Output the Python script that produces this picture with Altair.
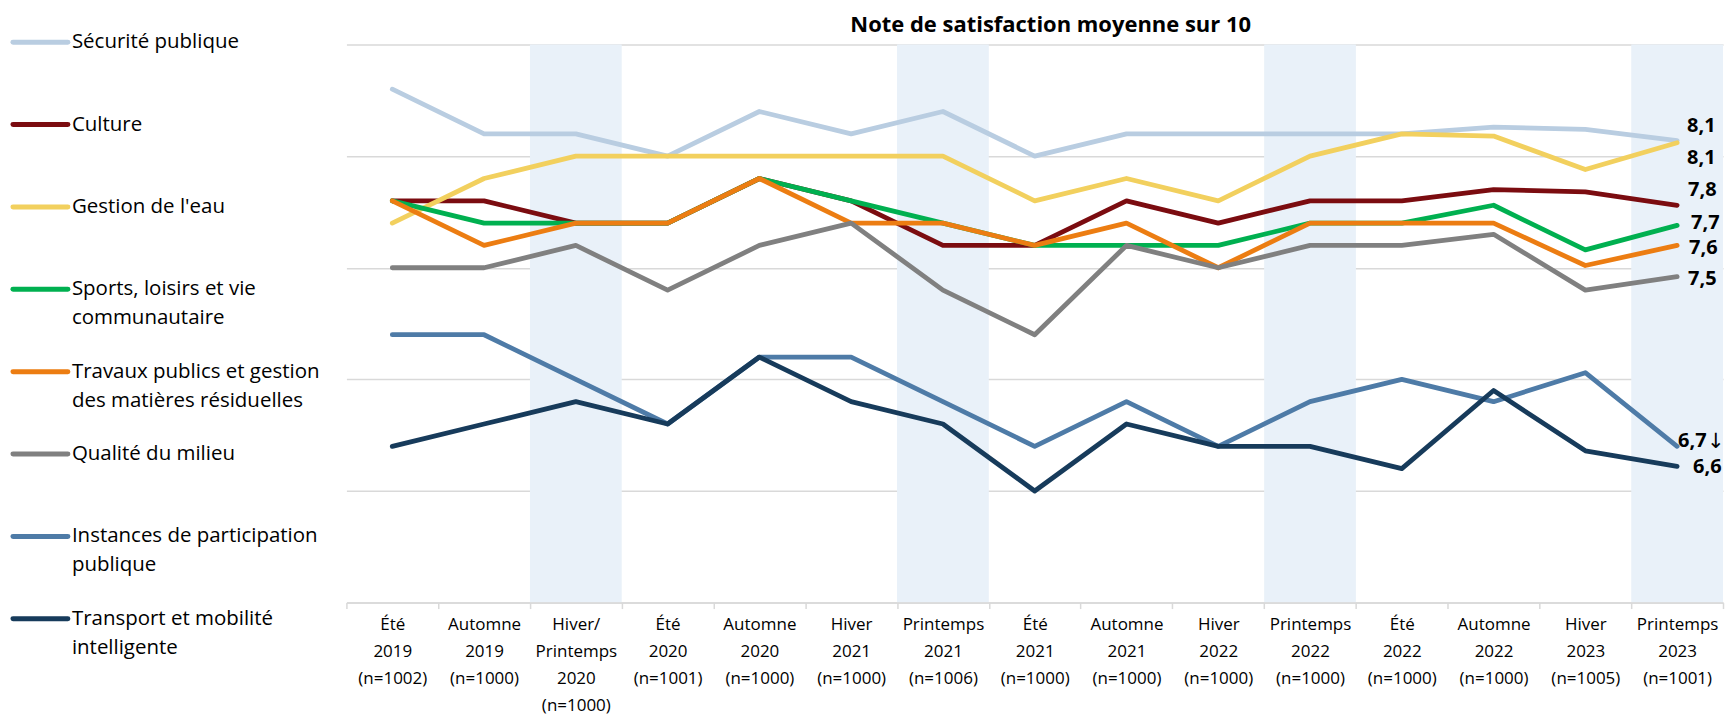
import altair as alt
import pandas as pd

# ---------------- data ----------------
periods = [
    "Été|2019|(n=1002)", "Automne|2019|(n=1000)", "Hiver/|Printemps|2020|(n=1000)",
    "Été|2020|(n=1001)", "Automne|2020|(n=1000)", "Hiver|2021|(n=1000)",
    "Printemps|2021|(n=1006)", "Été|2021|(n=1000)", "Automne|2021|(n=1000)",
    "Hiver|2022|(n=1000)", "Printemps|2022|(n=1000)", "Été|2022|(n=1000)",
    "Automne|2022|(n=1000)", "Hiver|2023|(n=1005)", "Printemps|2023|(n=1001)",
]
shaded_periods = [periods[2], periods[6], periods[10], periods[14]]

series_names = [
    "Sécurité publique", "Culture", "Gestion de l'eau",
    "Sports, loisirs et vie communautaire",
    "Travaux publics et gestion des matières résiduelles",
    "Qualité du milieu", "Instances de participation publique",
    "Transport et mobilité intelligente",
]
legend_line1 = ["Sécurité publique", "Culture", "Gestion de l'eau", "Sports, loisirs et vie",
                "Travaux publics et gestion", "Qualité du milieu",
                "Instances de participation", "Transport et mobilité"]
legend_line2 = ["", "", "", "communautaire", "des matières résiduelles", "",
                "publique", "intelligente"]

securite = [8.30, 8.10, 8.10, 8.00, 8.20, 8.10, 8.20, 8.00, 8.10, 8.10, 8.10, 8.10, 8.13, 8.12, 8.07]
culture = [7.80, 7.80, 7.70, 7.70, 7.90, 7.80, 7.60, 7.60, 7.80, 7.70, 7.80, 7.80, 7.85, 7.84, 7.78]
eau = [7.70, 7.90, 8.00, 8.00, 8.00, 8.00, 8.00, 7.80, 7.90, 7.80, 8.00, 8.10, 8.09, 7.94, 8.06]
sports = [7.80, 7.70, 7.70, 7.70, 7.90, 7.80, 7.70, 7.60, 7.60, 7.60, 7.70, 7.70, 7.78, 7.58, 7.69]
travaux = [7.80, 7.60, 7.70, 7.70, 7.90, 7.70, 7.70, 7.60, 7.70, 7.50, 7.70, 7.70, 7.70, 7.51, 7.60]
qualite = [7.50, 7.50, 7.60, 7.40, 7.60, 7.70, 7.40, 7.20, 7.60, 7.50, 7.60, 7.60, 7.65, 7.40, 7.46]
instances = [7.20, 7.20, 7.00, 6.80, 7.10, 7.10, 6.90, 6.70, 6.90, 6.70, 6.90, 7.00, 6.90, 7.03, 6.70]
transport = [6.70, 6.80, 6.90, 6.80, 7.10, 6.90, 6.80, 6.50, 6.80, 6.70, 6.70, 6.60, 6.95, 6.68, 6.61]
all_values = [securite, culture, eau, sports, travaux, qualite, instances, transport]
significance = ["", "", "", "", "", "", "↓", ""]

grid_values = [6.0, 6.5, 7.0, 7.5, 8.0, 8.5]

# ---------------- styles ----------------
colors = ["#B9CDE1", "#7B0C10", "#F2D05E", "#00B050", "#EC7D12", "#808080", "#4E7BA7", "#173B5B"]
label_offsets = [(10, -15), (11, -15), (10, 15), (14, -2), (12, 3), (11, 2.5), (1, -5), (16, 1)]
FONT = "Open Sans"
W, H = 1379, 559
LEG_STEP = 82.5

rows = []
for name, vals in zip(series_names, all_values):
    for p, v in zip(periods, vals):
        rows.append({"period": p, "series": name, "value": v})
df = pd.DataFrame(rows)

ends = pd.DataFrame({
    "period": [periods[-1]] * len(series_names),
    "series": series_names,
    "value": [v[-1] for v in all_values],
    "label": [f"{v[-1]:.1f}".replace(".", ",") for v in all_values],
    "mark": significance,
})

shade_df = pd.DataFrame({"period": shaded_periods,
                         "lo": [grid_values[0]] * len(shaded_periods),
                         "hi": [grid_values[-1]] * len(shaded_periods)})

xscale = alt.Scale(type="band", domain=periods, paddingInner=0, paddingOuter=0)
yscale = alt.Scale(domain=[grid_values[0], grid_values[-1]], nice=False, zero=False)

xaxis = alt.Axis(
    title=None, labelAngle=0, tickBand="extent",
    labelExpr="split(datum.label, '|')", labelFont=FONT, labelFontSize=17,
    labelColor="#000000", labelLineHeight=27, labelPadding=8, labelLimit=0,
    labelOverlap=False, tickColor="#D9D9D9", tickSize=6, tickWidth=1.5,
    domainColor="#D9D9D9", domainWidth=1.5, grid=False,
)
yaxis = alt.Axis(
    title=None, labels=False, ticks=False, domain=False, grid=True,
    values=grid_values, gridColor="#D9D9D9", gridWidth=1.5,
)

X = alt.X("period:N", scale=xscale, bandPosition=0.5, axis=xaxis)
Y = alt.Y("value:Q", scale=yscale, axis=yaxis)

shade = alt.Chart(shade_df).mark_rect(color="#E9F1F9").encode(
    x=alt.X("period:N", scale=xscale, axis=xaxis),
    y=alt.Y("lo:Q", scale=yscale, axis=yaxis),
    y2="hi:Q",
)

layers = [shade]
for name, col in zip(series_names, colors):
    layers.append(
        alt.Chart(df).transform_filter(alt.FieldEqualPredicate(field="series", equal=name))
        .mark_line(color=col, strokeWidth=4.8, strokeCap="round", strokeJoin="round")
        .encode(x=X, y=Y)
    )
for name, (dx, dy) in zip(series_names, label_offsets):
    sel = alt.Chart(ends).transform_filter(alt.FieldEqualPredicate(field="series", equal=name))
    layers.append(
        sel.mark_text(align="left", baseline="middle", dx=dx, dy=dy, font=FONT,
                      fontSize=20, fontWeight="bold", color="#000000")
        .encode(x=X, y=Y, text="label:N")
    )
    layers.append(
        sel.mark_text(align="left", baseline="middle", dx=dx + 29, dy=dy + 1,
                      font="DejaVu Sans", fontSize=21, color="#000000")
        .encode(x=X, y=Y, text="mark:N")
    )

main = alt.layer(*layers).properties(
    width=W, height=H,
    title=alt.TitleParams(
        "Note de satisfaction moyenne sur 10", font=FONT, fontSize=22,
        fontWeight="bold", color="#000000", anchor="middle", frame="group",
        dx=16, offset=8,
    ),
)

# ---------------- legend panel ----------------
leg_df = pd.DataFrame({"series": series_names, "line1": legend_line1, "line2": legend_line2})
leg_y = alt.Y("series:N", axis=None,
              scale=alt.Scale(type="point", domain=series_names, padding=0,
                              range=[-2.3, -2.3 + LEG_STEP * (len(series_names) - 1)]))
leg_color = alt.Color("series:N", scale=alt.Scale(domain=series_names, range=colors), legend=None)

leg_rules = alt.Chart(leg_df).mark_rule(strokeWidth=5, strokeCap="round").encode(
    y=leg_y, x=alt.value(5), x2=alt.value(60), color=leg_color
)
leg_text1 = alt.Chart(leg_df).mark_text(align="left", baseline="middle", font=FONT,
                                        fontSize=20.5, color="#000000").encode(
    y=leg_y, x=alt.value(64), text="line1:N"
)
leg_text2 = alt.Chart(leg_df).mark_text(align="left", baseline="middle", font=FONT,
                                        fontSize=20.5, color="#000000", dy=29).encode(
    y=leg_y, x=alt.value(64), text="line2:N"
)
legend = alt.layer(leg_rules, leg_text1, leg_text2).properties(width=330, height=H)

chart = alt.hconcat(legend, main, spacing=8).properties(
    padding={"left": 0, "top": 5, "right": 0, "bottom": 2}
).configure(font=FONT).configure_view(stroke=None)

chart.save("out.html", embed_options={"renderer": "svg", "actions": False})
